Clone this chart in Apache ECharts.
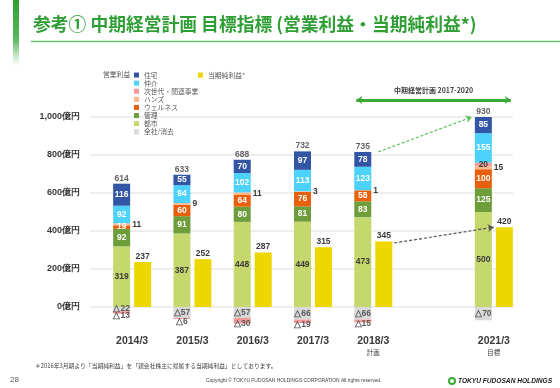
<!DOCTYPE html>
<html><head><meta charset="utf-8">
<script src="https://cdn.jsdelivr.net/npm/echarts@6/dist/echarts.min.js"></script>
<style>html,body{margin:0;padding:0;background:#fff}#c{width:560px;height:388px}</style>
</head><body><div id="c"></div>
<script>
const categories = ['2014/3','2015/3','2016/3','2017/3','2018/3','','2021/3'];
const subLabels  = ['','','','','計画','','目標'];
const toshi    = [319,387,448,449,473,null,500];   // 都市
const kanri    = [92,91,80,81,83,null,125];        // 管理
const wellness = [19,60,64,76,58,null,100];        // ウェルネス
const hands    = [11,9,11,3,1,null,15];            // ハンズ
const jisedai  = [-13,-6,-30,-19,-15,null,20];     // 次世代・関連事業
const chukai   = [92,94,102,113,123,null,155];     // 仲介
const jutaku   = [116,55,70,97,78,null,85];        // 住宅
const zensha   = [-22,-57,-57,-66,-66,null,-70];   // 全社/消去
const opTotal  = [614,633,688,732,735,null,930];   // 営業利益 合計
const netProfit= [237,252,287,315,345,null,420];   // 当期純利益*
const yMin = -200, yMax = 1000, yStep = 200;

const FONT = '"Liberation Sans", Arial, sans-serif';
const JP = '"Noto Sans CJK JP", sans-serif';
const dark = '#3a3a3a';

const posSegs = [toshi,kanri,wellness,hands,jisedai,chukai,jutaku];
const stackTop = categories.map((c,i)=> toshi[i]==null ? null :
  posSegs.reduce((s,a)=> s + (a[i]>0 ? a[i] : 0), 0));

const BW = 17, GAP = 4;
const fmt = v => v < 0 ? '△' + Math.abs(v) : String(v);

function seg(name, data, color, labelColor, extra) {
  return Object.assign({
    name, type:'bar', stack:'op', xAxisIndex:1, yAxisIndex:1,
    barWidth: BW, barGap: (GAP/BW*100)+'%',
    itemStyle:{color},
    label:{show:true, position:'inside', color:labelColor, fontFamily:FONT, fontWeight:'bold', fontSize:8.5,
      formatter: p => p.value==null ? '' : fmt(p.value)},
    data
  }, extra||{});
}

const chart = echarts.init(document.getElementById('c'), null, {renderer:'canvas'});

const series = [
  seg('全社/消去', zensha, '#d9d9d9', '#5a5a5a'),
  seg('都市', toshi, '#c5d86d', dark),
  seg('管理', kanri, '#6e9d3b', '#fff'),
  seg('ウェルネス', wellness, '#e8600c', '#fff'),
  seg('ハンズ', hands, '#fbb98a', dark, {label:{show:true, position:'right', distance:2, color:dark, fontFamily:FONT, fontWeight:'bold', fontSize:8.5,
      formatter: p => p.value==null ? '' : fmt(p.value)}}),
  seg('次世代・関連事業', jisedai.map(v => v==null ? null : (v<0 ? {value:v, label:{color:'#5a5a5a', offset:[0,3]}} : {value:v})), '#f49a9a', dark),
  seg('仲介', chukai, '#4dd2fb', '#fff'),
  seg('住宅', jutaku, '#3355a5', '#fff'),
  {
    name:'当期純利益*', type:'bar', xAxisIndex:1, yAxisIndex:1, barWidth:BW, barGap:(GAP/BW*100)+'%',
    itemStyle:{color:'#eed600'},
    label:{show:true, position:'top', distance:1, color:dark, fontFamily:FONT, fontWeight:'bold', fontSize:8.5},
    data: netProfit
  },
  {
    name:'total', type:'scatter', xAxisIndex:1, yAxisIndex:1, symbolSize:0, silent:true,
    label:{show:true, position:'top', distance:1, offset:[-(BW+GAP)/2,0], color:dark, fontFamily:FONT, fontWeight:'bold', fontSize:8.5,
      formatter: p => String(opTotal[p.dataIndex])},
    data: stackTop.map((v,i)=> v==null ? null : [i, v])
  }
];

const option = {
  animation:false,
  backgroundColor:'#fff',
  grid:[
    {left:90, right:47, top:117, bottom:43},
    {left:102, right:36, top:117, bottom:43}
  ],
  xAxis:[
    {type:'value', gridIndex:0, min:0, max:1, show:false},
    {type:'category', gridIndex:1, data:categories,
     axisLine:{show:false}, axisTick:{show:false},
     axisLabel:{margin:-10, interval:0,
       formatter:(v,i)=> subLabels[i] ? '{a|'+v+'}\n{b|'+subLabels[i]+'}' : '{a|'+v+'}',
       rich:{a:{fontFamily:FONT, fontWeight:'bold', fontSize:10.5, color:dark, lineHeight:13},
             b:{fontFamily:JP, fontSize:6.5, color:dark, lineHeight:10}}}}
  ],
  yAxis:[
    {type:'value', gridIndex:0, min:yMin, max:yMax, interval:yStep,
     axisLine:{show:false}, axisTick:{show:false},
     splitLine:{show:true, showMinLine:false, lineStyle:{color:'#e8e8e8', width:1.5}},
     axisLabel:{margin:10, showMinLabel:false, color:dark, fontFamily:FONT, fontWeight:'bold', fontSize:9,
       formatter: v => v < 0 ? '' : v.toLocaleString('en-US') + '億円'}},
    {type:'value', gridIndex:1, min:yMin, max:yMax, interval:yStep, show:false, splitLine:{show:false}}
  ],
  legend:[
    {orient:'vertical', left:134, top:71, padding:0, itemWidth:5, itemHeight:5, itemGap:0, icon:'rect', selectedMode:false,
     textStyle:{fontFamily:JP, fontSize:6.8, color:'#595959', lineHeight:8.1},
     data:['住宅','仲介','次世代・関連事業','ハンズ','ウェルネス','管理','都市','全社/消去']},
    {orient:'vertical', left:198, top:71, padding:0, itemWidth:5, itemHeight:5, icon:'rect', selectedMode:false,
     textStyle:{fontFamily:JP, fontSize:6.8, color:'#595959', lineHeight:8.1},
     data:['当期純利益*']}
  ],
  graphic:[
    {type:'rect', shape:{x:13, y:0, width:6, height:66},
     style:{fill:new echarts.graphic.LinearGradient(0,0,0,1,[{offset:0,color:'#2f9e2f'},{offset:0.6,color:'#5cb85c'},{offset:1,color:'rgba(120,200,120,0)'}])}},
    {type:'text', left:33, top:15, style:{text:'参考① 中期経営計画 目標指標 (営業利益・当期純利益*)', fontFamily:JP, fontWeight:'bold', fontSize:17.8, fill:'#2f9e34'}},
    {type:'line', shape:{x1:31, y1:41.5, x2:560, y2:41.5}, style:{stroke:'#6cc06c', lineWidth:1.5}},
    {type:'text', left:103, top:71, style:{text:'営業利益', fontFamily:JP, fontSize:6.8, fill:'#595959'}},
    {type:'text', left:35, top:363, style:{text:'＊2016年3月期より「当期純利益」を「親会社株主に帰属する当期純利益」としております。', fontFamily:JP, fontSize:5.8, fill:'#404040'}},
    {type:'text', left:10, top:376, style:{text:'28', fontFamily:FONT, fontSize:8, fill:'#595959'}},
    {type:'text', left:206, top:378, style:{text:'Copyright © TOKYU FUDOSAN HOLDINGS CORPORATION All rights reserved.', fontFamily:FONT, fontSize:4.9, fill:'#404040'}},
    {type:'circle', shape:{cx:452, cy:381, r:3}, style:{fill:'#fff', stroke:'#3aa935', lineWidth:2}},
    {type:'text', left:458, top:377.5, style:{text:'TOKYU FUDOSAN HOLDINGS', fontFamily:FONT, fontWeight:'bold', fontStyle:'italic', fontSize:6.6, fill:'#1a1a1a'}}
  ],
  series
};
chart.setOption(option);

// annotations computed from the library's own scales
const px = (i, v) => chart.convertToPixel({xAxisIndex:1, yAxisIndex:1}, [i, v]);
const off = (BW+GAP)/2;
const a1 = px(4, yMax), a2 = px(6, yMax);
const arrowY = 100;
const left = a1[0] - off - BW/2, right = a2[0] + off + BW/2;
const s1 = px(4, stackTop[4]), s2 = px(6, stackTop[6]);
const n1 = px(4, netProfit[4]), n2 = px(6, netProfit[6]);

chart.setOption({
  graphic: option.graphic.concat([
    {type:'text', style:{text:'中期経営計画 2017-2020', x:(left+right)/2, y:90, align:'center', verticalAlign:'middle', fontFamily:JP, fontWeight:'bold', fontSize:7, fill:'#404040'}}
  ]),
  series: series.concat([{
    name:'anno', type:'line', xAxisIndex:1, yAxisIndex:1, data:[], silent:true,
    markLine:{silent:true, animation:false, label:{show:false}, symbolSize:[6,6],
      data:[
        [{x:left+2, y:arrowY, symbol:'arrow', lineStyle:{color:'#3aa935', width:3, type:'solid'}},
         {x:right-2, y:arrowY, symbol:'arrow'}],
        [{x:s1[0]-off+BW/2+7, y:s1[1], symbol:'none', lineStyle:{color:'#5cc05c', width:1.2, type:[3,2]}},
         {x:s2[0]-off-BW/2-3, y:s2[1], symbol:'arrow'}],
        [{x:n1[0]+off+BW/2+2, y:n1[1]+1.5, symbol:'none', lineStyle:{color:'#555', width:1.2, type:[3,2]}},
         {x:n2[0]+off-BW/2-2, y:n2[1], symbol:'arrow'}]
      ]}
  }])
});
</script></body></html>
